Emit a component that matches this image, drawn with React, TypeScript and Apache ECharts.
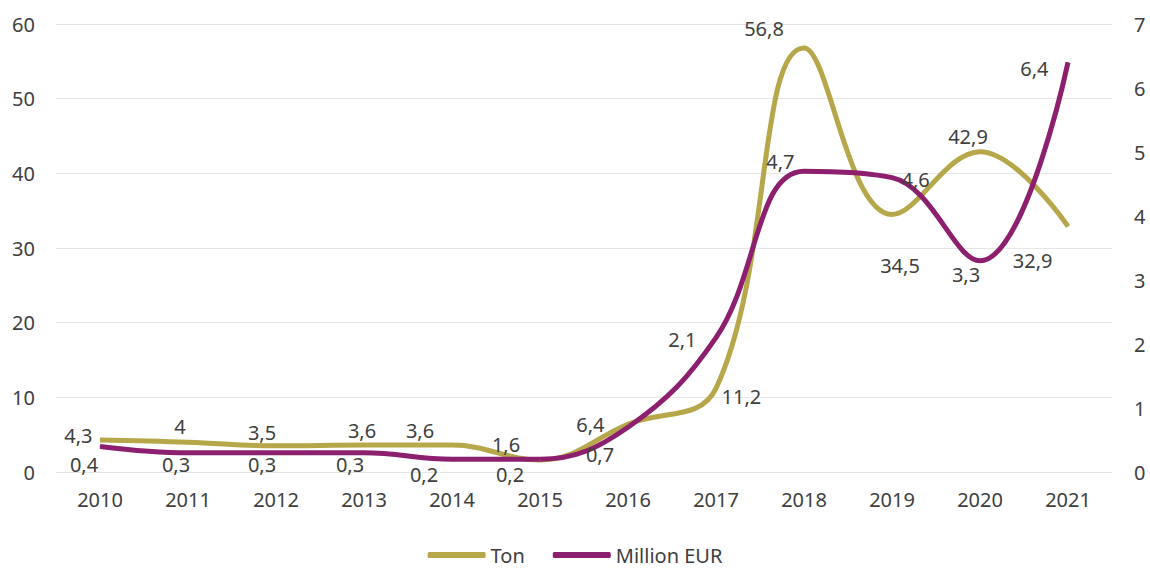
import React, { useEffect, useRef } from "react";
import * as echarts from "echarts";

const years = ["2010", "2011", "2012", "2013", "2014", "2015", "2016", "2017", "2018", "2019", "2020", "2021"];
const tonValues = [4.3, 4, 3.5, 3.6, 3.6, 1.6, 6.4, 11.2, 56.8, 34.5, 42.9, 32.9];
const eurValues = [0.4, 0.3, 0.3, 0.3, 0.2, 0.2, 0.7, 2.1, 4.7, 4.6, 3.3, 6.4];

// label placement (style only)
const tonLabelPos: [string, number[]][] = [
  ["left", [-2, -4]],
  ["top", [-8, 0]],
  ["top", [-14, 2]],
  ["top", [-2, 1]],
  ["top", [-32, 1]],
  ["top", [-34, 0]],
  ["left", [-18, 0]],
  ["right", [0, 8]],
  ["top", [-40, -4]],
  ["bottom", [8, 36]],
  ["top", [-12, 0]],
  ["left", [-10, 34]],
];
const eurLabelPos: [string, number[]][] = [
  ["bottom", [-16, 3]],
  ["bottom", [-12, -4]],
  ["bottom", [-14, -4]],
  ["bottom", [-14, -4]],
  ["bottom", [-28, 0]],
  ["bottom", [-30, 0]],
  ["bottom", [-28, 12]],
  ["left", [-14, 2]],
  ["left", [-4, -10]],
  ["right", [4, 2]],
  ["bottom", [-14, -2]],
  ["left", [-14, 6]],
];

const FONT = "Noto Sans";
const TEXT = "#404040";
const TON_COLOR = "#b5a74a";
const EUR_COLOR = "#8c1f6e";
const FS = 20;

const fmt = (v: number) => String(v).replace(".", ",");

export default function App() {
  const ref = useRef<HTMLDivElement>(null);
  useEffect(() => {
    if (!ref.current) return;
    const chart = echarts.init(ref.current, undefined, { renderer: "svg" });
    const mk = (vals: number[], pos: [string, number[]][]) =>
      vals.map((v, i) => ({
        value: v,
        label: { position: pos[i][0], offset: pos[i][1] },
      }));
    chart.setOption({
      animation: false,
      backgroundColor: "#ffffff",
      textStyle: { fontFamily: FONT },
      grid: { left: 56, right: 38, top: 24, bottom: 96, containLabel: false },
      legend: {
        left: "center",
        top: 540,
        itemWidth: 58,
        itemHeight: 6,
        itemGap: 28,
        icon: "roundRect",
        textStyle: { fontFamily: FONT, fontSize: FS, color: TEXT },
        data: ["Ton", "Million EUR"],
      },
      xAxis: {
        type: "category",
        data: years,
        boundaryGap: true,
        axisLine: { show: false },
        axisTick: { show: false },
        axisLabel: { color: TEXT, fontSize: FS, fontFamily: FONT, margin: 17 },
      },
      yAxis: [
        {
          type: "value",
          min: 0,
          max: 60,
          interval: 10,
          axisLine: { show: false },
          axisTick: { show: false },
          axisLabel: { color: TEXT, fontSize: FS, fontFamily: FONT, margin: 21 },
          splitLine: { lineStyle: { color: "#e6e6e6", width: 1 } },
        },
        {
          type: "value",
          min: 0,
          max: 7,
          interval: 1,
          axisLine: { show: false },
          axisTick: { show: false },
          axisLabel: { color: TEXT, fontSize: FS, fontFamily: FONT, margin: 22 },
          splitLine: { show: false },
        },
      ],
      series: [
        {
          name: "Ton",
          type: "line",
          yAxisIndex: 0,
          smooth: 0.4,
          symbol: "circle",
          symbolSize: 1,
          itemStyle: { color: TON_COLOR },
          lineStyle: { color: TON_COLOR, width: 5 },
          label: {
            show: true,
            color: TEXT,
            fontSize: FS,
            fontFamily: FONT,
            formatter: (p: any) => fmt(p.value),
          },
          data: mk(tonValues, tonLabelPos),
        },
        {
          name: "Million EUR",
          type: "line",
          yAxisIndex: 1,
          smooth: 0.4,
          symbol: "circle",
          symbolSize: 1,
          itemStyle: { color: EUR_COLOR },
          lineStyle: { color: EUR_COLOR, width: 5 },
          label: {
            show: true,
            color: TEXT,
            fontSize: FS,
            fontFamily: FONT,
            formatter: (p: any) => fmt(p.value),
          },
          data: mk(eurValues, eurLabelPos),
        },
      ],
    });
    return () => chart.dispose();
  }, []);
  return (
    <div
      ref={ref}
      style={{ position: "fixed", left: 0, top: 0, width: 1150, height: 568, background: "#fff" }}
    />
  );
}
